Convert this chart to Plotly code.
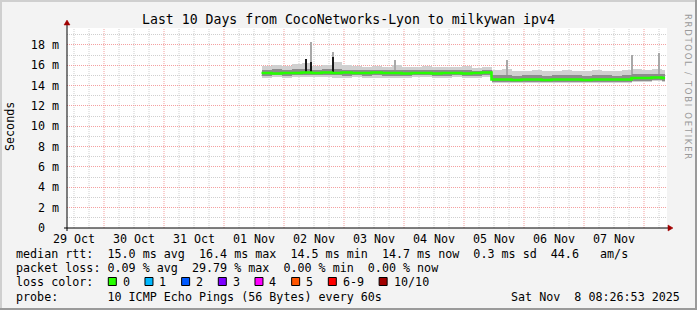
import pandas as pd
import plotly.graph_objects as go

# ---------------- data ----------------
title = "Last 10 Days from CocoNetworks-Lyon to milkywan ipv4"
x_start = "2025-10-29 09:12"
x_end = "2025-11-08 09:12"
day_labels = ["29 Oct", "30 Oct", "31 Oct", "01 Nov", "02 Nov",
              "03 Nov", "04 Nov", "05 Nov", "06 Nov", "07 Nov"]
y_tick_vals = [0, 2, 4, 6, 8, 10, 12, 14, 16, 18]
y_tick_text = ["0\u00a0\u00a0", "2 m", "4 m", "6 m", "8 m", "10 m",
               "12 m", "14 m", "16 m", "18 m"]

# 4-hour bins of the smoke (ms); first 23 bins before the drop, 18 after
bin_start = "2025-11-01 15:00"
bin_last_start = "2025-11-08 07:00"
data_end = "2025-11-08 08:26"

median = [15.25, 15.2, 15.25, 15.25, 15.3, 15.25, 15.3, 15.25, 15.3, 15.25, 15.25, 15.3,
          15.25, 15.25, 15.2, 15.25, 15.25, 15.2, 15.25, 15.25, 15.2, 15.25, 15.3,
          14.6, 14.6, 14.55, 14.6, 14.6, 14.55, 14.6, 14.6, 14.6, 14.55, 14.6, 14.6, 14.6, 14.6,
          14.75, 14.75, 14.8, 14.75]
outer_hi = [15.9, 16.0, 15.95, 16.1, 16.2, 15.95, 16.05, 16.3, 16.0, 15.9, 15.85, 15.9,
            15.8, 16.0, 15.85, 15.8, 15.9, 15.8, 15.85, 15.8, 15.9, 15.75, 15.85,
            15.5, 15.6, 15.4, 15.45, 15.5, 15.4, 15.45, 15.5, 15.4, 15.45, 15.5, 15.4, 15.45, 15.5,
            15.6, 15.55, 15.6, 15.55]
inner_hi = [15.55, 15.6, 15.55, 15.6, 15.65, 15.55, 15.6, 15.65, 15.55, 15.55, 15.5, 15.55,
            15.5, 15.55, 15.5, 15.5, 15.55, 15.5, 15.5, 15.5, 15.55, 15.45, 15.55,
            15.0, 15.05, 14.95, 15.0, 15.0, 14.95, 15.0, 15.0, 15.0, 14.95, 15.0, 15.0, 14.95, 15.0,
            15.1, 15.1, 15.15, 15.1]
inner_lo = [14.95, 15.0, 14.95, 15.0, 15.05, 15.0, 15.0, 15.0, 14.95, 15.0, 14.95, 15.0,
            14.95, 14.95, 14.95, 15.0, 15.0, 14.95, 14.95, 15.0, 14.95, 14.95, 15.0,
            14.4, 14.4, 14.35, 14.4, 14.4, 14.35, 14.4, 14.4, 14.4, 14.35, 14.4, 14.4, 14.4, 14.4,
            14.5, 14.5, 14.55, 14.5]
outer_lo = [14.8, 14.85, 14.8, 14.85, 14.9, 14.85, 14.85, 14.8, 14.8, 14.85, 14.8, 14.8,
            14.8, 14.8, 14.8, 14.85, 14.85, 14.8, 14.8, 14.85, 14.8, 14.8, 14.85,
            14.3, 14.3, 14.25, 14.3, 14.3, 14.25, 14.3, 14.3, 14.3, 14.25, 14.3, 14.3, 14.3, 14.3,
            14.4, 14.4, 14.45, 14.4]

# single-ping spikes (time, low, high)
spike_time = ["2025-11-02 08:48", "2025-11-02 10:48", "2025-11-02 19:36", "2025-11-03 20:24",
              "2025-11-05 17:12", "2025-11-07 19:12", "2025-11-08 06:00"]
spike_lo = [15.5, 15.5, 15.5, 15.5, 14.9, 15.0, 15.1]
spike_hi = [16.6, 18.3, 17.3, 16.5, 16.5, 17.0, 17.2]
dark_time = ["2025-11-02 08:48", "2025-11-02 10:48", "2025-11-02 19:36"]
dark_lo = [15.3, 15.3, 15.3]
dark_hi = [16.6, 16.3, 16.8]

loss_labels = ["0", "1", "2", "3", "4", "5", "6-9", "10/10"]
loss_colors = ["#26ff00", "#00b8ff", "#0059ff", "#7e00ff", "#ff00ff", "#ff5500", "#ff0000", "#a10000"]

line_rtt = "median rtt:  15.0 ms avg  16.4 ms max  14.5 ms min  14.7 ms now  0.3 ms sd  44.6   am/s"
line_loss = "packet loss: 0.09 % avg  29.79 % max  0.00 % min  0.00 % now"
line_probe = "probe:       10 ICMP Echo Pings (56 Bytes) every 60s"
stamp = "Sat Nov  8 08:26:53 2025"
watermark = "RRDTOOL / TOBI OETIKER"

# ---------------- layout geometry ----------------
W, H = 697, 310
PL, PR, PT, PB = 67, 667, 28, 228
MONO = "DejaVu Sans Mono"
FS = 11.7


def fx(px):
    return (px - PL) / (PR - PL)


def fy(py):
    return (PB - py) / (PB - PT)


def nb(s):
    return s.replace(" ", "\u00a0")


edges = list(pd.date_range(bin_start, bin_last_start, freq="4h")) + [pd.Timestamp(data_end)]
edges = pd.DatetimeIndex(edges)
widths = (edges[1:] - edges[:-1])
centers = edges[:-1] + widths / 2
width_ms = [w.total_seconds() * 1000 for w in widths]

fig = go.Figure()
fig.add_trace(go.Bar(x=centers, base=outer_lo, y=[h - l for h, l in zip(outer_hi, outer_lo)],
                     width=width_ms, marker=dict(color="#d0d0d0", line=dict(width=0)),
                     hoverinfo="skip"))
fig.add_trace(go.Bar(x=pd.to_datetime(spike_time), base=spike_lo,
                     y=[h - l for h, l in zip(spike_hi, spike_lo)],
                     width=[1.6e6] * len(spike_time),
                     marker=dict(color="#a8a8a8", line=dict(width=0)), hoverinfo="skip"))
fig.add_trace(go.Bar(x=centers, base=inner_lo, y=[h - l for h, l in zip(inner_hi, inner_lo)],
                     width=width_ms, marker=dict(color="#8c8c8c", line=dict(width=0)),
                     hoverinfo="skip"))
fig.add_trace(go.Bar(x=pd.to_datetime(dark_time), base=dark_lo,
                     y=[h - l for h, l in zip(dark_hi, dark_lo)],
                     width=[1.6e6] * len(dark_time),
                     marker=dict(color="#1a1a1a", line=dict(width=0)), hoverinfo="skip"))
fig.add_trace(go.Scatter(x=edges, y=median + [median[-1]], mode="lines",
                         line=dict(color="#26ff00", width=2.6, shape="hv"), hoverinfo="skip"))

shapes = []
# vertical grid lines
for t in pd.date_range("2025-10-29 12:00", "2025-11-08 06:00", freq="6h"):
    if t.hour != 0:
        shapes.append(dict(type="line", xref="x", yref="paper", x0=t, x1=t, y0=0, y1=1,
                           line=dict(color="#cfcfcf", width=1, dash="1px,1px"), layer="below"))
for t in pd.date_range("2025-10-30", "2025-11-08", freq="D"):
    shapes.append(dict(type="line", xref="x", yref="paper", x0=t, x1=t, y0=0, y1=1,
                       line=dict(color="#f4a0a0", width=1, dash="1px,1px"), layer="below"))
# axes lines
shapes.append(dict(type="line", xref="paper", yref="paper", x0=fx(64), x1=fx(669), y0=0, y1=0,
                   line=dict(color="black", width=1)))
shapes.append(dict(type="line", xref="paper", yref="paper", x0=0, x1=0, y0=fy(231), y1=fy(24),
                   line=dict(color="black", width=1)))
# arrows
shapes.append(dict(type="path", xref="paper", yref="paper",
                   path=f"M{fx(668)},{fy(225)} L{fx(673)},{fy(228)} L{fx(668)},{fy(231)} Z",
                   fillcolor="#a00000", line=dict(color="#a00000", width=0.5)))
shapes.append(dict(type="path", xref="paper", yref="paper",
                   path=f"M{fx(64)},{fy(25)} L{fx(67)},{fy(20)} L{fx(70)},{fy(25)} Z",
                   fillcolor="#a00000", line=dict(color="#a00000", width=0.5)))
# frame border
shapes.append(dict(type="line", xref="paper", yref="paper", x0=fx(0), x1=fx(697), y0=fy(1), y1=fy(1),
                   line=dict(color="#cfcfcf", width=2)))
shapes.append(dict(type="line", xref="paper", yref="paper", x0=fx(1), x1=fx(1), y0=fy(0), y1=fy(310),
                   line=dict(color="#cfcfcf", width=2)))
shapes.append(dict(type="line", xref="paper", yref="paper", x0=fx(0), x1=fx(697), y0=fy(309), y1=fy(309),
                   line=dict(color="#9a9a9a", width=2)))
shapes.append(dict(type="line", xref="paper", yref="paper", x0=fx(696), x1=fx(696), y0=fy(0), y1=fy(310),
                   line=dict(color="#9a9a9a", width=2)))

annotations = []


def txt(s, px, py, anchor="left", size=FS, color="#000000", angle=0, family=MONO):
    annotations.append(dict(text=nb(s), x=fx(px), y=fy(py), xref="paper", yref="paper",
                            xanchor=anchor, yanchor="middle", showarrow=False, textangle=angle,
                            font=dict(family=family, size=size, color=color), borderpad=0))


txt(title, 348, 19, anchor="center", size=13.2)
txt("Seconds", 10, 127, anchor="center", angle=-90)
txt("\u2009".join(watermark), 688, 86, anchor="center", size=8.5, color="#9a9a9a", angle=90,
    family="DejaVu Sans")
txt(line_rtt, 15, 254)
txt(line_loss, 15, 268)
txt("loss color:", 15, 282)
txt(line_probe, 15, 297)
txt(stamp, 681, 297, anchor="right")

sx = 108.3
for lab, col in zip(loss_labels, loss_colors):
    shapes.append(dict(type="rect", xref="paper", yref="paper", x0=fx(sx), x1=fx(sx + 8),
                       y0=fy(277.5), y1=fy(285.5), fillcolor=col, line=dict(color="black", width=1)))
    txt(lab, sx + 13.5, 282)
    sx += 29.6 + 7.07 * len(lab)

fig.update_layout(
    width=W, height=H, autosize=False,
    margin=dict(l=PL, r=W - PR, t=PT, b=H - PB, pad=0),
    paper_bgcolor="#f3f3f3", plot_bgcolor="#ffffff",
    showlegend=False, barmode="overlay", bargap=0,
    font=dict(family=MONO, size=FS, color="#000000"),
    shapes=shapes, annotations=annotations,
    xaxis=dict(type="date", range=[x_start, x_end], showgrid=False, zeroline=False,
               tickmode="array", tickvals=pd.date_range("2025-10-29 12:00", periods=10, freq="D"),
               ticktext=day_labels, ticks="", showline=False, ticklabelstandoff=2,
               tickfont=dict(family=MONO, size=FS)),
    yaxis=dict(range=[0, 19.67], tickmode="array", tickvals=y_tick_vals, ticktext=y_tick_text,
               showgrid=True, gridcolor="#f4a0a0", griddash="1px,1px", gridwidth=1,
               zeroline=False, ticks="", showline=False, ticklabelstandoff=7,
               minor=dict(dtick=1, showgrid=True, gridcolor="#cfcfcf", griddash="1px,1px"),
               tickfont=dict(family=MONO, size=FS)),
)

fig.write_html("out.html")
